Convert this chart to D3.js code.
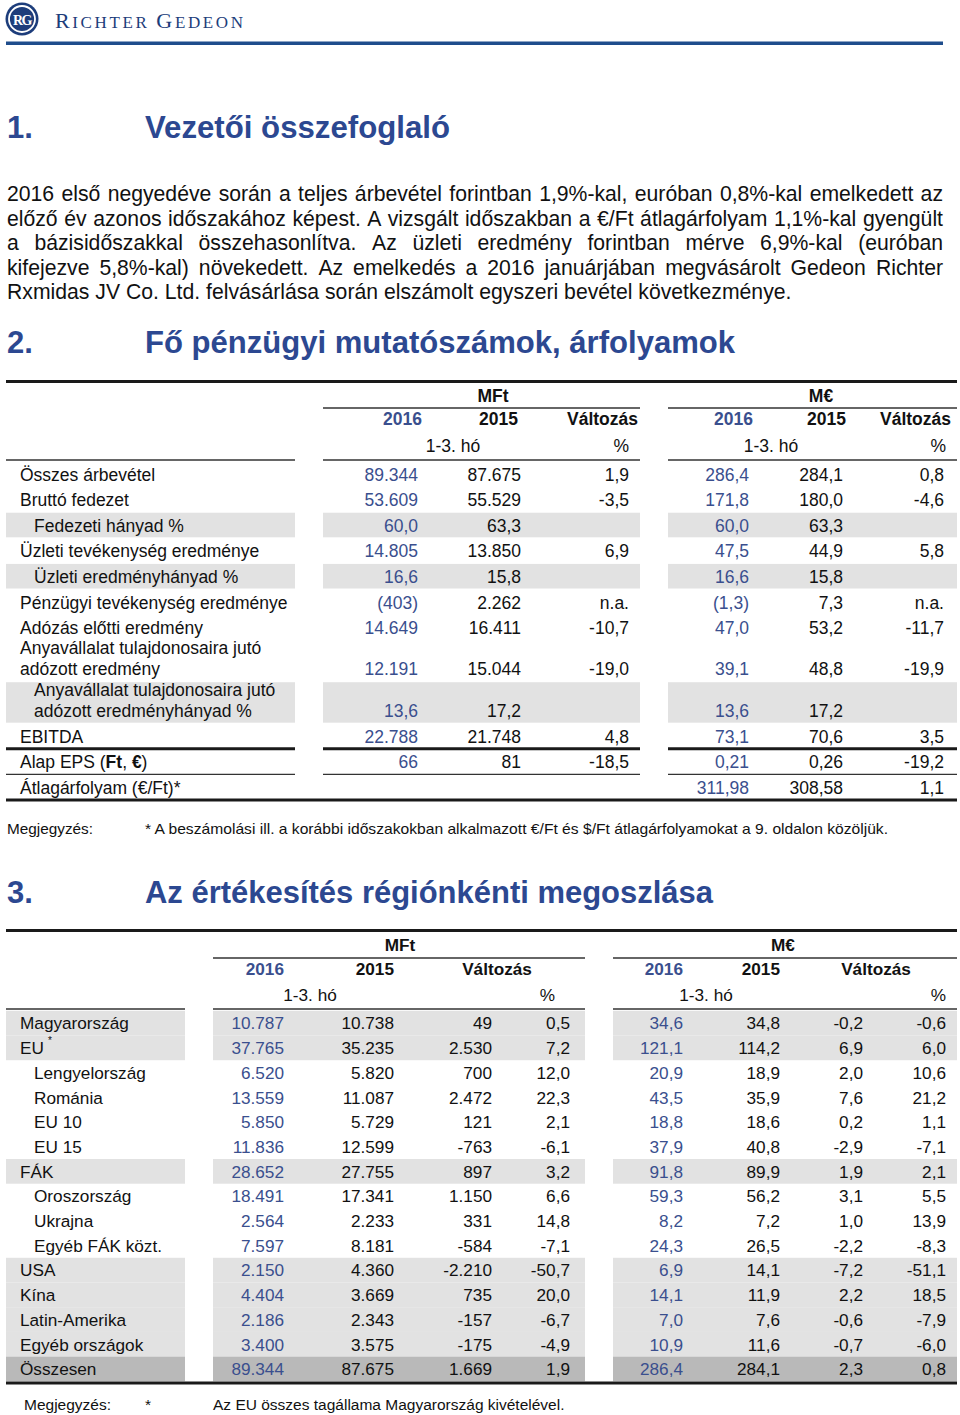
<!DOCTYPE html>
<html><head><meta charset="utf-8">
<script src="https://cdn.jsdelivr.net/npm/d3@7"></script>
<style>
body{margin:0;background:#fff}
svg{display:block}
text{font-family:"Liberation Sans",Arial,Helvetica,sans-serif}
</style>
</head><body>
<svg id="page" width="960" height="1415"></svg>
<script>
// ---------------- DATA ----------------
const introLines = [
  "2016 első negyedéve során a teljes árbevétel forintban 1,9%-kal, euróban 0,8%-kal emelkedett az",
  "előző év azonos időszakához képest. A vizsgált időszakban a €/Ft átlagárfolyam 1,1%-kal gyengült",
  "a bázisidőszakkal összehasonlítva. Az üzleti eredmény forintban mérve 6,9%-kal (euróban",
  "kifejezve 5,8%-kal) növekedett. Az emelkedés a 2016 januárjában megvásárolt Gedeon Richter",
  "Rxmidas JV Co. Ltd. felvásárlása során elszámolt egyszeri bevétel következménye."
];
const headings = [
  ["1.", "Vezetői összefoglaló"],
  ["2.", "Fő pénzügyi mutatószámok, árfolyamok"],
  ["3.", "Az értékesítés régiónkénti megoszlása"]
];

// Table 1 — key financial indicators
const t1Units = ["MFt", "M€"];
const t1ColHeads = ["2016", "2015", "Változás"];
const t1Labels = [
  "Összes árbevétel", "Bruttó fedezet", "Fedezeti hányad %",
  "Üzleti tevékenység eredménye", "Üzleti eredményhányad %",
  "Pénzügyi tevékenység eredménye", "Adózás előtti eredmény",
  "Anyavállalat tulajdonosaira jutó\nadózott eredmény",
  "Anyavállalat tulajdonosaira jutó\nadózott eredményhányad %",
  "EBITDA", "Alap EPS (Ft, €)", "Átlagárfolyam (€/Ft)*"
];
const t1Mft2016 = ["89.344","53.609","60,0","14.805","16,6","(403)","14.649","12.191","13,6","22.788","66",""];
const t1Mft2015 = ["87.675","55.529","63,3","13.850","15,8","2.262","16.411","15.044","17,2","21.748","81",""];
const t1MftChg  = ["1,9","-3,5","","6,9","","n.a.","-10,7","-19,0","","4,8","-18,5",""];
const t1Eur2016 = ["286,4","171,8","60,0","47,5","16,6","(1,3)","47,0","39,1","13,6","73,1","0,21","311,98"];
const t1Eur2015 = ["284,1","180,0","63,3","44,9","15,8","7,3","53,2","48,8","17,2","70,6","0,26","308,58"];
const t1EurChg  = ["0,8","-4,6","","5,8","","n.a.","-11,7","-19,9","","3,5","-19,2","1,1"];
const t1Note = ["Megjegyzés:", "* A beszámolási ill. a korábbi időszakokban alkalmazott €/Ft és $/Ft átlagárfolyamokat a 9. oldalon közöljük."];

// Table 2 — sales by region
const t2Regions = ["Magyarország","EU","Lengyelország","Románia","EU 10","EU 15","FÁK","Oroszország","Ukrajna","Egyéb FÁK közt.","USA","Kína","Latin-Amerika","Egyéb országok","Összesen"];
const t2Mft2016 = ["10.787","37.765","6.520","13.559","5.850","11.836","28.652","18.491","2.564","7.597","2.150","4.404","2.186","3.400","89.344"];
const t2Mft2015 = ["10.738","35.235","5.820","11.087","5.729","12.599","27.755","17.341","2.233","8.181","4.360","3.669","2.343","3.575","87.675"];
const t2MftAbs  = ["49","2.530","700","2.472","121","-763","897","1.150","331","-584","-2.210","735","-157","-175","1.669"];
const t2MftPct  = ["0,5","7,2","12,0","22,3","2,1","-6,1","3,2","6,6","14,8","-7,1","-50,7","20,0","-6,7","-4,9","1,9"];
const t2Eur2016 = ["34,6","121,1","20,9","43,5","18,8","37,9","91,8","59,3","8,2","24,3","6,9","14,1","7,0","10,9","286,4"];
const t2Eur2015 = ["34,8","114,2","18,9","35,9","18,6","40,8","89,9","56,2","7,2","26,5","14,1","11,9","7,6","11,6","284,1"];
const t2EurAbs  = ["-0,2","6,9","2,0","7,6","0,2","-2,9","1,9","3,1","1,0","-2,2","-7,2","2,2","-0,6","-0,7","2,3"];
const t2EurPct  = ["-0,6","6,0","10,6","21,2","1,1","-7,1","2,1","5,5","13,9","-8,3","-51,1","18,5","-7,9","-6,0","0,8"];
const t2Note = ["Megjegyzés:", "*", "Az EU összes tagállama Magyarország kivételével."];
const periodLabel = "1-3. hó";

// ---------------- STYLE ----------------
const BLUE = "#2c4891", NUMBLUE = "#3a4f8e", LOGO = "#1d3d7b";
const GRAY = "#e2e2e2", DARKGRAY = "#b9b9b9", INK = "#111";
const svg = d3.select("#page");

// ---------------- HEADER ----------------
const logo = svg.append("g");
logo.append("circle").attr("cx", 22).attr("cy", 19).attr("r", 16.5).attr("fill", LOGO);
logo.append("circle").attr("cx", 22).attr("cy", 19).attr("r", 13).attr("fill", "none").attr("stroke", "#fff").attr("stroke-width", 1.8);
logo.append("text").attr("x", 22).attr("y", 24.5).attr("text-anchor", "middle")
  .style("font-family", '"Liberation Serif","DejaVu Serif",serif').attr("font-weight", "bold")
  .attr("font-size", 14).attr("letter-spacing", -1.5).attr("fill", "#fff").text("RG");

const brand = svg.append("text").attr("x", 55).attr("y", 27.5).attr("fill", LOGO)
  .style("font-family", '"Liberation Serif","DejaVu Serif",serif');
[["R", 22], ["ICHTER ", 17], ["G", 22], ["EDEON", 17]].forEach(([t, s]) =>
  brand.append("tspan").attr("font-size", s).text(t));
{
  const w = brand.node().getComputedTextLength();
  const n = "RICHTER GEDEON".length;
  brand.attr("letter-spacing", ((243 - 55) - w) / (n - 1));
}
svg.append("rect").attr("x", 6).attr("y", 41.5).attr("width", 937).attr("height", 3.5).attr("fill", "#1f4d8c");

// ---------------- HEADINGS ----------------
const headY = [138, 353, 903];
const headW = [305, 590, 568];
headings.forEach(([num, title], i) => {
  svg.append("text").attr("x", 7).attr("y", headY[i]).attr("font-size", 31).attr("font-weight", "bold")
    .attr("fill", BLUE).text(num);
  svg.append("text").attr("x", 145).attr("y", headY[i]).attr("font-size", 31).attr("font-weight", "bold")
    .attr("fill", BLUE).attr("textLength", headW[i]).attr("lengthAdjust", "spacingAndGlyphs").text(title);
});

// ---------------- INTRO PARAGRAPH (justified) ----------------
const introFS = 21.2;
const introY = d3.scaleLinear().domain([0, 1]).range([201, 225.5]);
introLines.forEach((line, i) => {
  const words = line.split(" ");
  const t = svg.append("text").attr("y", introY(i)).attr("font-size", introFS).attr("fill", INK);
  const spans = words.map(w => t.append("tspan").text(w));
  const widths = spans.map(s => s.node().getComputedTextLength());
  const total = d3.sum(widths);
  const justify = i < introLines.length - 1;
  const gap = justify ? (936 - total) / (words.length - 1) : introFS * 0.278;
  let x = 7;
  spans.forEach((s, j) => { s.attr("x", x); x += widths[j] + gap; });
});

// ---------------- helpers ----------------
function hline(x0, x1, y, w, col) {
  svg.append("line").attr("x1", x0).attr("x2", x1).attr("y1", y).attr("y2", y)
    .attr("stroke", col || "#1a1a1a").attr("stroke-width", w);
}
function txt(x, y, s, opts) {
  const o = opts || {};
  return svg.append("text").attr("x", x).attr("y", y).attr("font-size", o.size || 17.5)
    .attr("text-anchor", o.anchor || "start").attr("font-weight", o.bold ? "bold" : null)
    .attr("fill", o.fill || INK).text(s);
}

// ---------------- TABLE 1 ----------------
{
  const FS = 17.5;
  const segs = [[6, 295], [323, 640], [668, 957]];
  const colX = d3.scaleOrdinal().domain(d3.range(6)).range([418, 521, 629, 749, 843, 944]);
  const unitsPerRow = t1Labels.map(l => l.includes("\n") ? 1.62 : 1);
  const ends = d3.cumsum(unitsPerRow);
  const y = d3.scaleLinear().domain([0, d3.sum(unitsPerRow)]).range([461, 800]);
  const shaded = new Set([2, 4, 8]);
  const indented = new Set([2, 4, 8]);

  // header
  hline(6, 957, 381.5, 3);
  t1Units.forEach((u, k) => txt(k ? 821 : 493, 402, u, { anchor: "middle", bold: true, size: FS }));
  hline(323, 640, 408, 1.5, "#333"); hline(668, 957, 408, 1.5, "#333");
  [[422, 518, 638], [753, 846, 951]].forEach(xs => {
    txt(xs[0], 425, t1ColHeads[0], { anchor: "end", bold: true, fill: NUMBLUE, size: FS });
    txt(xs[1], 425, t1ColHeads[1], { anchor: "end", bold: true, size: FS });
    txt(xs[2], 425, t1ColHeads[2], { anchor: "end", bold: true, size: FS });
  });
  txt(453, 452, periodLabel, { anchor: "middle", size: FS });
  txt(629, 452, "%", { anchor: "end", size: FS });
  txt(771, 452, periodLabel, { anchor: "middle", size: FS });
  txt(946, 452, "%", { anchor: "end", size: FS });
  segs.forEach(([a, b]) => hline(a, b, 460, 1.5, "#333"));

  const cols = [t1Mft2016, t1Mft2015, t1MftChg, t1Eur2016, t1Eur2015, t1EurChg];
  t1Labels.forEach((lab, i) => {
    const top = y(ends[i] - unitsPerRow[i]), bot = y(ends[i]);
    if (shaded.has(i)) segs.forEach(([a, b]) =>
      svg.append("rect").attr("x", a).attr("y", top + 0.5).attr("width", b - a).attr("height", bot - top - 1).attr("fill", GRAY));
    const lx = indented.has(i) ? 34 : 20;
    const lines = lab.split("\n");
    let numY;
    if (lines.length === 2) {
      txt(lx, top + 14, lines[0], { size: FS });
      txt(lx, top + 35, lines[1], { size: FS });
      numY = top + 35;
    } else if (lab.startsWith("Alap EPS")) {
      const t = txt(lx, top + 19.5, "", { size: FS });
      t.append("tspan").text("Alap EPS (");
      t.append("tspan").attr("font-weight", "bold").text("Ft");
      t.append("tspan").text(", ");
      t.append("tspan").attr("font-weight", "bold").text("€");
      t.append("tspan").text(")");
      numY = top + 19.5;
    } else {
      txt(lx, top + 19.5, lab, { size: FS });
      numY = top + 19.5;
    }
    cols.forEach((c, k) => {
      if (c[i] !== "") txt(colX(k), numY, c[i], { anchor: "end", size: FS, fill: (k === 0 || k === 3) ? NUMBLUE : INK });
    });
  });
  // rules
  const yE = y(ends[9]), yP = y(ends[10]);
  segs.forEach(([a, b]) => hline(a, b, yE, 3));
  segs.forEach(([a, b]) => hline(a, b, yP, 1.3, "#333"));
  hline(6, 957, y(ends[11]), 3);

  // note
  svg.append("text").attr("x", 7).attr("y", 834).attr("font-size", 15).attr("fill", INK)
    .attr("textLength", 86).attr("lengthAdjust", "spacingAndGlyphs").text(t1Note[0]);
  svg.append("text").attr("x", 145).attr("y", 834).attr("font-size", 15).attr("fill", INK)
    .attr("textLength", 743).attr("lengthAdjust", "spacingAndGlyphs").text(t1Note[1]);
}

// ---------------- TABLE 2 ----------------
{
  const FS = 17.2;
  const segs = [[6, 185], [213, 585], [613, 957]];
  const colX = d3.scaleOrdinal().domain(d3.range(8)).range([284, 394, 492, 570, 683, 780, 863, 946]);
  const y = d3.scaleBand().domain(d3.range(t2Regions.length)).range([1010.8, 1381.3]).padding(0);
  const light = new Set([0, 1, 6, 10, 11, 12, 13]);
  const dark = new Set([14]);
  const indented = new Set([2, 3, 4, 5, 7, 8, 9]);

  hline(6, 957, 930.5, 3);
  txt(400, 951, t1Units[0], { anchor: "middle", bold: true, size: FS });
  txt(783, 951, t1Units[1], { anchor: "middle", bold: true, size: FS });
  hline(213, 585, 958, 1.5, "#333"); hline(613, 957, 958, 1.5, "#333");
  txt(284, 975, t1ColHeads[0], { anchor: "end", bold: true, fill: NUMBLUE, size: FS });
  txt(394, 975, t1ColHeads[1], { anchor: "end", bold: true, size: FS });
  txt(497, 975, t1ColHeads[2], { anchor: "middle", bold: true, size: FS });
  txt(683, 975, t1ColHeads[0], { anchor: "end", bold: true, fill: NUMBLUE, size: FS });
  txt(780, 975, t1ColHeads[1], { anchor: "end", bold: true, size: FS });
  txt(876, 975, t1ColHeads[2], { anchor: "middle", bold: true, size: FS });
  txt(310, 1001, periodLabel, { anchor: "middle", size: FS });
  txt(555, 1001, "%", { anchor: "end", size: FS });
  txt(706, 1001, periodLabel, { anchor: "middle", size: FS });
  txt(946, 1001, "%", { anchor: "end", size: FS });
  segs.forEach(([a, b]) => hline(a, b, 1009, 1.5, "#333"));

  const cols = [t2Mft2016, t2Mft2015, t2MftAbs, t2MftPct, t2Eur2016, t2Eur2015, t2EurAbs, t2EurPct];
  t2Regions.forEach((r, i) => {
    const top = y(i), h = y.bandwidth();
    if (light.has(i) || dark.has(i)) segs.forEach(([a, b]) =>
      svg.append("rect").attr("x", a).attr("y", top).attr("width", b - a).attr("height", h)
        .attr("fill", dark.has(i) ? DARKGRAY : GRAY));
    const by = top + 18.6;
    txt(indented.has(i) ? 34 : 20, by, r, { size: FS });
    if (r === "EU") txt(48, by - 10, "*", { size: 10 });
    cols.forEach((c, k) => txt(colX(k), by, c[i], { anchor: "end", size: FS, fill: (k === 0 || k === 4) ? NUMBLUE : INK }));
  });
  hline(6, 957, 1383, 3);

  txt(24, 1410, t2Note[0], { size: 15.5 });
  txt(145, 1410, t2Note[1], { size: 15.5 });
  txt(213, 1410, t2Note[2], { size: 15.5 });
}
</script>
</body></html>
